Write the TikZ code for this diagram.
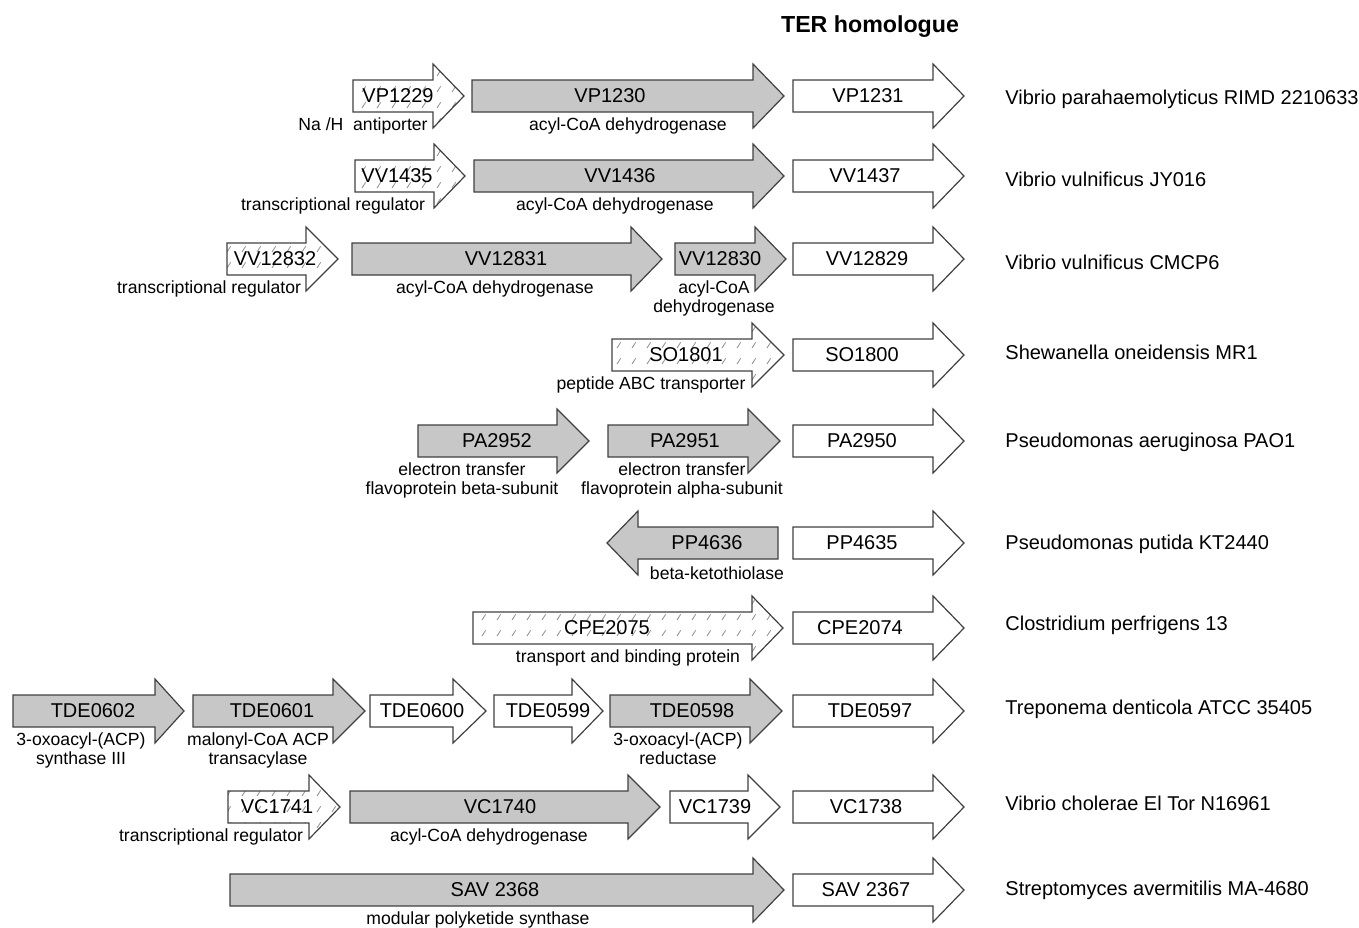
\documentclass[tikz,border=0pt]{standalone}
\usepackage{fontspec}
\setmainfont{Liberation Sans}
\usetikzlibrary{patterns}

\pgfdeclarepatternformonly{slashes}{\pgfqpoint{-1pt}{-1pt}}{\pgfqpoint{8.5pt}{9pt}}{\pgfqpoint{7.5pt}{8pt}}{%
  \pgfsetlinewidth{0.4pt}%
  \pgfpathmoveto{\pgfqpoint{1pt}{1.5pt}}%
  \pgfpathlineto{\pgfqpoint{2.8pt}{4.3pt}}%
  \pgfusepath{stroke}}

\tikzset{
  gene/.style={draw=black!75, line width=0.6pt, line join=miter},
  grey gene/.style={gene, fill=black!22},
  plain gene/.style={gene, fill=white},
  hatched gene/.style={gene, pattern=slashes, pattern color=black!45},
  gname/.style={inner sep=0pt, font=\fontsize{10}{12}\selectfont},
  glabel/.style={anchor=north, inner sep=0pt, align=center, font=\fontsize{8.8}{9.5}\selectfont},
  species/.style={anchor=base west, inner sep=0pt, font=\fontsize{10}{12}\selectfont},
}

\begin{document}
\begin{tikzpicture}[x=0.5pt,y=-0.5pt]
  \useasboundingbox (0,0) rectangle (1359,927);

  \node[inner sep=0pt, anchor=base, font=\fontsize{11.6}{13}\selectfont\bfseries] (title) at (870,32) {TER homologue};

  % genes: name / body start / head base / tip / row / text x / text / style
  \foreach \n/\xa/\xb/\xt/\y/\tx/\t/\s in {
      vp1229/353/433/464/96/398/VP1229/hatched gene,
      vp1230/472/753/784/96/610/VP1230/grey gene,
      vp1231/793/933/964/96/868/VP1231/plain gene,
      vv1435/355/434/465/176/397/VV1435/hatched gene,
      vv1436/474/753/784/176/620/VV1436/grey gene,
      vv1437/793/933/964/176/865/VV1437/plain gene,
      vv12832/227/306/338/259/275/VV12832/hatched gene,
      vv12831/352/631/662/259/506/VV12831/grey gene,
      vv12830/675/755/786/259/720/VV12830/grey gene,
      vv12829/793/933/964/259/867/VV12829/plain gene,
      so1801/612/752/784/355/686/SO1801/hatched gene,
      so1800/793/933/964/355/862/SO1800/plain gene,
      pa2952/418/557/589/441/497/PA2952/grey gene,
      pa2951/608/748/780/441/685/PA2951/grey gene,
      pa2950/793/933/964/441/862/PA2950/plain gene,
      pp4636/778/638/607/543/707/PP4636/grey gene,
      pp4635/793/933/964/543/862/PP4635/plain gene,
      cpe2075/473/752/783/628/607/CPE2075/hatched gene,
      cpe2074/793/933/964/628/860/CPE2074/plain gene,
      tde0602/13/155/184/711/93/TDE0602/grey gene,
      tde0601/193/333/365/711/272/TDE0601/grey gene,
      tde0600/370/453/486/711/422/TDE0600/plain gene,
      tde0599/494/572/603/711/548/TDE0599/plain gene,
      tde0598/610/750/782/711/692/TDE0598/grey gene,
      tde0597/793/933/964/711/870/TDE0597/plain gene,
      vc1741/228/309/340/807/277/VC1741/hatched gene,
      vc1740/350/628/660/807/500/VC1740/grey gene,
      vc1739/670/748/780/807/715/VC1739/plain gene,
      vc1738/793/933/964/807/866/VC1738/plain gene,
      sav2368/230/753/784/890/495/SAV 2368/grey gene,
      sav2367/793/933/964/890/866/SAV 2367/plain gene}
  {
    \draw[\s] (\xa,\y-16) -- (\xb,\y-16) -- (\xb,\y-32) -- (\xt,\y)
      -- (\xb,\y+32) -- (\xb,\y+16) -- (\xa,\y+16) -- cycle;
    \node[gname] (\n) at (\tx,\y) {\t};
  }

  % functions
  \foreach \n/\x/\y/\t in {
      na/363/96/{Na /H\ \ antiporter},
      acd1/628/96/{acyl-CoA dehydrogenase},
      tr1/333/176/{transcriptional regulator},
      acd2/615/176/{acyl-CoA dehydrogenase},
      tr2/209/259/{transcriptional regulator},
      acd3/495/259/{acyl-CoA dehydrogenase},
      acd4/714/259/{acyl-CoA\\dehydrogenase},
      abc/651/355/{peptide ABC transporter},
      etfb/462/441/{electron transfer\\flavoprotein beta-subunit},
      etfa/682/441/{electron transfer\\flavoprotein alpha-subunit},
      ketot/717/545/{beta-ketothiolase},
      tbp/628/628/{transport and binding protein},
      ksiii/81/711/{3-oxoacyl-(ACP)\\synthase III},
      mcat/258/711/{malonyl-CoA ACP\\transacylase},
      kred/678/711/{3-oxoacyl-(ACP)\\reductase},
      tr3/211/807/{transcriptional regulator},
      acd5/489/807/{acyl-CoA dehydrogenase},
      pks/478/890/{modular polyketide synthase}}
    \node[glabel] (\n) at (\x,\y+21) {\t};

  % organisms
  \foreach \n/\y/\t in {
      vpar/97/{Vibrio parahaemolyticus RIMD 2210633},
      vvja/179/{Vibrio vulnificus JY016},
      vvcm/262/{Vibrio vulnificus CMCP6},
      sone/352/{Shewanella oneidensis MR1},
      paer/440/{Pseudomonas aeruginosa PAO1},
      pput/542/{Pseudomonas putida KT2440},
      cper/623/{Clostridium perfrigens 13},
      tden/707/{Treponema denticola ATCC 35405},
      vcho/803/{Vibrio cholerae El Tor N16961},
      save/888/{Streptomyces avermitilis MA-4680}}
    \node[species] (\n) at (1005,\y+7) {\t};

\end{tikzpicture}
\end{document}
